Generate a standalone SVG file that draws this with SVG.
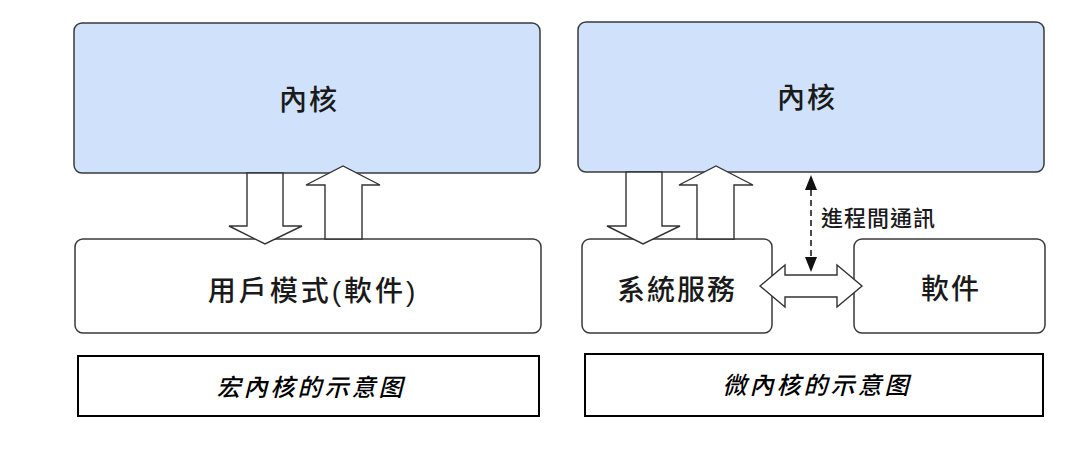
<svg xmlns="http://www.w3.org/2000/svg" width="1071" height="453" viewBox="0 0 1071 453">
<style>
.kernel{fill:#d0e2fb;stroke:#3a3a3a;stroke-width:1.5}
.box{fill:#ffffff;stroke:#3a3a3a;stroke-width:1.5}
.cap{fill:#ffffff;stroke:#000000;stroke-width:2}
.arr{fill:#ffffff;stroke:#333333;stroke-width:1.4;stroke-linejoin:miter}
.t{font-family:"Liberation Sans","Noto Sans CJK TC",sans-serif;fill:#1a1a1a;text-anchor:middle;dominant-baseline:central;font-weight:500}
.big{font-size:28px;letter-spacing:2px}
.ci{font-size:24px;font-style:italic;letter-spacing:3px;fill:#000;font-weight:500}
.lbl{font-size:22px;letter-spacing:1px;text-anchor:start}
.dash{stroke:#111;stroke-width:1.5;stroke-dasharray:6,4;fill:none}
.head{fill:#111}
</style>
<rect width="1071" height="453" fill="#ffffff"/>
<g id="left-kernel"><rect class="kernel" x="74" y="23" width="466" height="150" rx="8"/><text class="t big" x="309" y="100">內核</text></g>
<g id="left-user"><rect class="box" x="75" y="239" width="466" height="94" rx="8"/><text class="t big" x="313" y="291" style="letter-spacing:3px">用戶模式(軟件)</text></g>
<g id="left-caption"><rect class="cap" x="78" y="356" width="461" height="60"/><text class="t ci" x="311" y="387">宏內核的示意图</text></g>
<g id="right-kernel"><rect class="kernel" x="578" y="22" width="466" height="150" rx="8"/><text class="t big" x="807" y="98">內核</text></g>
<g id="right-services"><rect class="box" x="582" y="239" width="190" height="94" rx="8"/><text class="t big" x="677" y="290">系統服務</text></g>
<g id="right-software"><rect class="box" x="854" y="239" width="191" height="94" rx="8"/><text class="t big" x="951" y="289">軟件</text></g>
<g id="right-caption"><rect class="cap" x="585" y="354" width="458" height="62"/><text class="t ci" x="817" y="385">微內核的示意图</text></g>
<g id="connectors">
<polygon class="arr" points="247,173 247,226 229,226 265,244 302,226 283,226 283,173"/>
<polygon class="arr" points="325,239 325,185 306,185 343,166 380,185 362,185 362,239"/>
<polygon class="arr" points="626,172 626,226 607,226 643,244 680,226 662,226 662,172"/>
<polygon class="arr" points="697,239 697,185 679,185 716,166 753,185 734,185 734,239"/>
<polygon class="arr" points="760,286 785,265 785,275 837,275 837,265 862,286 837,307 837,297 785,297 785,307"/>
<line class="dash" x1="811" y1="190" x2="811" y2="258"/>
<polygon class="head" points="811,175 805,190 817,190"/>
<polygon class="head" points="811,272 805,257 817,257"/>
<text class="t lbl" x="821" y="218">進程間通訊</text>
</g>
</svg>
